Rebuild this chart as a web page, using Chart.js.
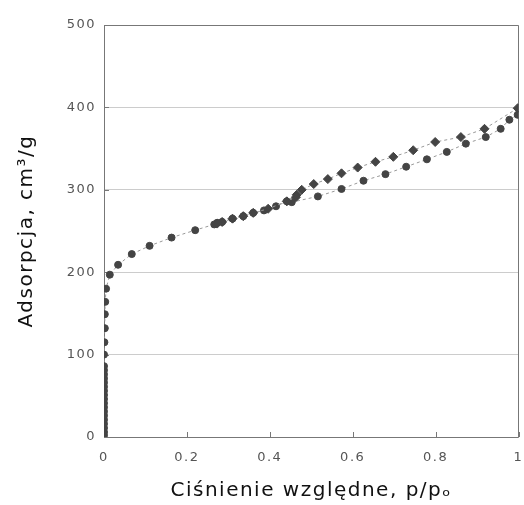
<!DOCTYPE html>
<html>
<head>
<meta charset="utf-8">
<script src="https://cdn.jsdelivr.net/npm/chart.js@4"></script>
<style>
  html, body { margin: 0; padding: 0; background: #fff; overflow: hidden; }
  #wrap { width: 524px; height: 505px; }
</style>
</head>
<body>
<div id="wrap"><canvas id="chart"></canvas></div>
<script>
// adsorption branch (lower)
const adsX = [0, 0, 0, 0, 0, 0, 0, 0, 0, 0, 0, 0, 0, 0, 0, 0, 0, 0, 0,
  0.001, 0.002, 0.002, 0.003, 0.005, 0.014, 0.034,
  0.067, 0.11, 0.163, 0.22, 0.266, 0.273, 0.285, 0.31, 0.336, 0.36, 0.386, 0.415, 0.441, 0.453,
  0.516, 0.573, 0.626, 0.679, 0.729, 0.779, 0.827, 0.873, 0.921, 0.957, 0.978, 0.998];
const adsY = [2, 6, 11, 16, 21, 26, 31, 36, 41, 46, 51, 56, 61, 66, 71, 76, 81, 86, 100,
  115, 132, 149, 164, 180, 197, 209,
  222, 232, 242, 251, 258, 260, 261, 265, 268, 272, 275, 280, 286, 285,
  292, 301, 311, 319, 328, 337, 346, 356, 364, 374, 385, 391];
// desorption branch (upper)
const desX = [0.998, 0.918, 0.861, 0.799, 0.746, 0.698, 0.655, 0.612, 0.573, 0.54, 0.506, 0.477,
  0.465, 0.463, 0.441, 0.396, 0.36, 0.336, 0.31, 0.285, 0.273];
const desY = [399, 374, 364, 358, 348, 340, 334, 327, 320, 313, 307, 300,
  294, 291, 286, 277, 272, 268, 265, 261, 259];

const xTicks = [0, 0.2, 0.4, 0.6, 0.8, 1];
const yTicks = [0, 100, 200, 300, 400, 500];

const toPoints = (xs, ys) => xs.map((x, i) => ({ x: x, y: ys[i] }));

// box round the plot and short inward tick marks
const frame = {
  id: "frame",
  beforeDraw(chart) {
    chart.ctx.letterSpacing = "1.5px";
  },
  beforeDatasetsDraw(chart) {
    const { ctx, chartArea: a, scales } = chart;
    ctx.save();
    ctx.strokeStyle = "#777";
    ctx.lineWidth = 1;
    ctx.setLineDash([]);
    ctx.beginPath();
    ctx.rect(Math.round(a.left) + 0.5, Math.round(a.top) + 0.5,
      Math.round(a.right - a.left) - 1, Math.round(a.bottom - a.top));
    xTicks.forEach((v) => {
      const px = Math.round(scales.x.getPixelForValue(v)) + 0.5;
      ctx.moveTo(px, a.bottom);
      ctx.lineTo(px, a.bottom - 5);
    });
    yTicks.forEach((v) => {
      const py = Math.round(scales.y.getPixelForValue(v)) + 0.5;
      ctx.moveTo(a.left, py);
      ctx.lineTo(a.left + 5, py);
    });
    ctx.stroke();
    ctx.restore();
  },
};

new Chart(document.getElementById("chart"), {
  type: "scatter",
  data: {
    datasets: [
      {
        label: "desorpcja",
        data: toPoints(desX, desY),
        showLine: true,
        borderColor: "#999",
        borderWidth: 1,
        borderDash: [3, 3],
        pointStyle: "rectRot",
        pointRadius: 4.5,
        pointBackgroundColor: "#444",
        pointBorderColor: "#444",
      },
      {
        label: "adsorpcja",
        data: toPoints(adsX, adsY),
        showLine: true,
        borderColor: "#999",
        borderWidth: 1,
        borderDash: [3, 3],
        pointStyle: "circle",
        pointRadius: 3.5,
        pointBackgroundColor: "#444",
        pointBorderColor: "#444",
      },
    ],
  },
  options: {
    responsive: true,
    maintainAspectRatio: false,
    animation: false,
    layout: { padding: { top: 25, right: 1, left: 0, bottom: 0 } },
    plugins: { legend: { display: false }, tooltip: { enabled: false } },
    scales: {
      x: {
        type: "linear",
        min: 0,
        max: 1,
        afterBuildTicks: (s) => { s.ticks = xTicks.map((v) => ({ value: v })); },
        afterFit: (s) => { s.height = 68; s.paddingRight = 0; },
        grid: { display: false, drawTicks: false },
        border: { display: false },
        ticks: {
          color: "#555",
          font: { family: "DejaVu Sans", size: 13 },
          padding: 13,
          callback: (v) => String(v),
        },
        title: {
          display: true,
          text: "Ciśnienie względne, p/pₒ",
          color: "#111",
          font: { family: "DejaVu Sans", size: 20 },
          padding: { top: 0, bottom: 2 },
        },
      },
      y: {
        min: 0,
        max: 500,
        afterBuildTicks: (s) => { s.ticks = yTicks.map((v) => ({ value: v })); },
        afterFit: (s) => { s.width = 104; },
        grid: { color: "#ccc", drawTicks: false },
        border: { display: false },
        ticks: {
          color: "#555",
          font: { family: "DejaVu Sans", size: 13 },
          padding: 8,
        },
        title: {
          display: true,
          text: "Adsorpcja, cm³/g",
          color: "#111",
          font: { family: "DejaVu Sans", size: 20 },
          padding: { top: 15, bottom: 0 },
        },
      },
    },
  },
  plugins: [frame],
});
</script>
</body>
</html>
